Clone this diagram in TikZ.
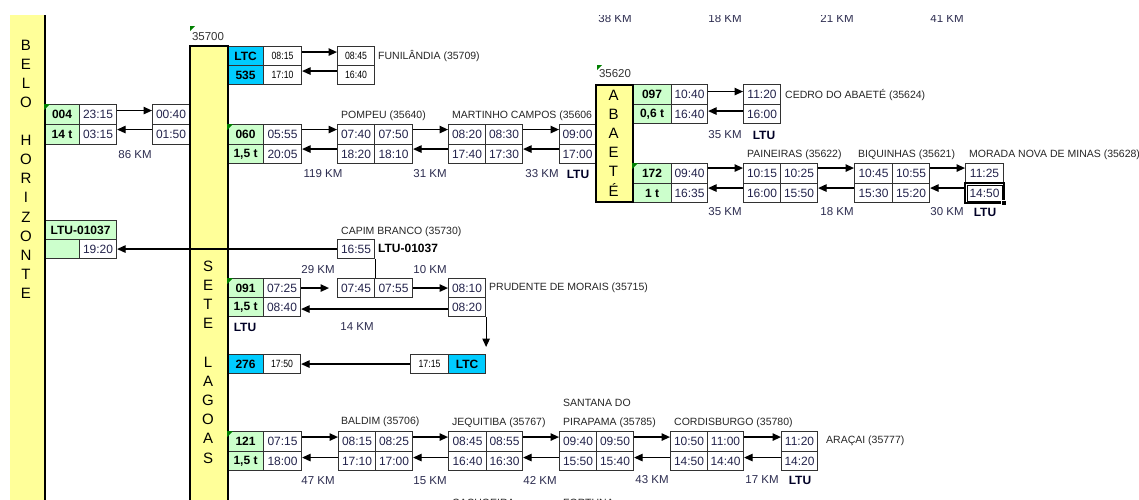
\documentclass[tikz,border=0pt]{standalone}
\usepackage{fontspec}
\setmainfont{Liberation Sans}
\newfontfamily\nrw[FakeStretch=0.83]{Liberation Sans}
\usetikzlibrary{arrows.meta}
\definecolor{yel}{RGB}{255,255,153}
\definecolor{grn}{RGB}{204,255,204}
\definecolor{cyn}{RGB}{0,204,255}
\definecolor{timecol}{RGB}{35,35,75}
\definecolor{kmcol}{RGB}{45,45,80}
\definecolor{cellline}{RGB}{50,50,50}
\definecolor{markgreen}{RGB}{0,128,0}
\tikzset{
 cellb/.style={draw=cellline, line width=1.1pt, inner sep=0pt, anchor=north west, text=timecol, font=\fontsize{12}{14}\selectfont},
 grc/.style={cellb, fill=grn, text=black, font=\bfseries\fontsize{12}{14}\selectfont},
 cyc/.style={cellb, fill=cyn, text=black, font=\bfseries\fontsize{12}{14}\selectfont},
 nrc/.style={cellb, text=black, font=\nrw\fontsize{10.5}{12}\selectfont},
 stlabel/.style={anchor=west, inner sep=0pt, text=black!85, font=\fontsize{10.5}{12}\selectfont},
 kmlabel/.style={inner sep=0pt, text=kmcol, font=\fontsize{11.5}{13}\selectfont},
 ltulabel/.style={inner sep=0pt, text=black!85!blue, font=\bfseries\fontsize{12}{14}\selectfont},
 arr/.style={draw=black, line width=1.2pt, -{Triangle[length=8.5pt,width=7.5pt]}},
 plainline/.style={draw=black, line width=1.2pt},
 barbox/.style={fill=yel, draw=black, line width=2.2pt, anchor=north west, inner sep=0pt},
 barletter/.style={inner sep=0pt, font=\fontsize{15}{17}\selectfont},
}
\newcommand\mkcell[6]{\node[#1, minimum width=#4pt, minimum height=#5pt] (#2) at (#3) {#6};}
\newcommand\myrar[3]{\draw[arr] ([yshift=#3pt]#1.east) -- ([yshift=#3pt]#2.west);}
\newcommand\mylar[3]{\draw[arr] ([yshift=#3pt]#1.west) -- ([yshift=#3pt]#2.east);}
\newcommand\mykm[3]{\node[kmlabel] (#1) at (#2) {#3};}
\newcommand\mylbl[3]{\node[stlabel] (#1) at (#2) {#3};}
\newcommand\mytri[1]{\fill[markgreen] (#1.north west) -- ++(6,0) -- ++(-6,6) -- cycle;}
\begin{document}
\begin{tikzpicture}[x=1pt,y=-1pt]
\useasboundingbox (0,0) rectangle (1139,499);
\fill[white] (0,0) rectangle (1139,499);
\begin{scope}
\clip (0,15.5) rectangle (1139,499);
% top partial km labels
\mykm{kmt1}{615,18.5}{38 KM}
\mykm{kmt2}{725,18.5}{18 KM}
\mykm{kmt3}{837,18.5}{21 KM}
\mykm{kmt4}{947,18.5}{41 KM}
% station labels
\mylbl{lfun}{378,56}{FUNILÂNDIA (35709)}
\mylbl{lpom}{341,116}{POMPEU (35640)}
\mylbl{lmar}{452,116}{MARTINHO CAMPOS (35606}
\mylbl{lced}{785,95}{CEDRO DO ABAETÉ (35624)}
\mylbl{lpai}{747,155}{PAINEIRAS (35622)}
\mylbl{lbiq}{858,155}{BIQUINHAS (35621)}
\mylbl{lmor}{969,155}{MORADA NOVA DE MINAS (35628)}
\mylbl{lcap}{341,232}{CAPIM BRANCO (35730)}
\mylbl{lpru}{489,288}{PRUDENTE DE MORAIS (35715)}
\mylbl{lbal}{341,422}{BALDIM (35706)}
\mylbl{ljeq}{452,423}{JEQUITIBA (35767)}
\mylbl{lsan}{563,403}{SANTANA DO}
\mylbl{lpir}{563,423}{PIRAPAMA (35785)}
\mylbl{lcor}{674,423}{CORDISBURGO (35780)}
\mylbl{lara}{826,441}{ARAÇAI (35777)}
\mylbl{lcac}{452,503}{CACHOEIRA}
\mylbl{lfor}{563,503}{FORTUNA}
% km labels
\mykm{km86}{135,155}{86 KM}
\mykm{km119}{323,174}{119 KM}
\mykm{km31}{430,174}{31 KM}
\mykm{km33}{542,174}{33 KM}
\node[ltulabel] (ltu1) at (578,174) {LTU};
\mykm{km35a}{725,135}{35 KM}
\node[ltulabel] (ltu2) at (764,135) {LTU};
\mykm{km35b}{725,212}{35 KM}
\mykm{km18}{837,212}{18 KM}
\mykm{km30}{947,212}{30 KM}
\node[ltulabel] (ltu3) at (985,212) {LTU};
\mykm{km29}{318,270}{29 KM}
\mykm{km10}{430,270}{10 KM}
\node[ltulabel] (ltu4) at (245,327) {LTU};
\mykm{km14}{357,327}{14 KM}
\mykm{km47}{318,481}{47 KM}
\mykm{km15}{430,481}{15 KM}
\mykm{km42}{540,480}{42 KM}
\mykm{km43}{652,480}{43 KM}
\mykm{km17}{762,480}{17 KM}
\node[ltulabel] (ltu5) at (800,480) {LTU};
% BH 004 block
\mkcell{grc}{g004}{44,104}{35}{20}{004}
\mkcell{cellb}{t2315}{79,104}{37}{20}{23:15}
\mkcell{grc}{g14t}{44,124}{35}{20}{14 t}
\mkcell{cellb}{t0315}{79,124}{37}{20}{03:15}
\mkcell{cellb}{s0040}{152,104}{37}{20}{00:40}
\mkcell{cellb}{s0150}{152,124}{37}{20}{01:50}
% LTC 535
\mkcell{cyc}{cltc}{227,46}{36}{19}{LTC}
\mkcell{nrc}{t0815}{263,46}{38}{19}{08:15}
\mkcell{cyc}{c535}{227,65}{36}{19}{535}
\mkcell{nrc}{t1710}{263,65}{38}{19}{17:10}
\mkcell{nrc}{f0845}{337,46}{37}{19}{08:45}
\mkcell{nrc}{f1640}{337,65}{37}{19}{16:40}
% 060
\mkcell{grc}{g060}{227,124}{36}{20}{060}
\mkcell{cellb}{t0555}{263,124}{38}{20}{05:55}
\mkcell{grc}{g15a}{227,144}{36}{19}{1,5 t}
\mkcell{cellb}{t2005}{263,144}{38}{19}{20:05}
\mkcell{cellb}{p0740}{337,124}{37}{20}{07:40}
\mkcell{cellb}{p0750}{374,124}{38}{20}{07:50}
\mkcell{cellb}{p1820}{337,144}{37}{19}{18:20}
\mkcell{cellb}{p1810}{374,144}{38}{19}{18:10}
\mkcell{cellb}{m0820}{448,124}{37}{20}{08:20}
\mkcell{cellb}{m0830}{485,124}{37}{20}{08:30}
\mkcell{cellb}{m1740}{448,144}{37}{19}{17:40}
\mkcell{cellb}{m1730}{485,144}{37}{19}{17:30}
\mkcell{cellb}{a0900}{559,124}{36}{20}{09:00}
\mkcell{cellb}{a1700}{559,144}{36}{19}{17:00}
% 097
\mkcell{grc}{g097}{632,84}{39}{20}{097}
\mkcell{cellb}{t1040}{671,84}{36}{20}{10:40}
\mkcell{grc}{g06t}{632,104}{39}{19}{0,6 t}
\mkcell{cellb}{t1640}{671,104}{36}{19}{16:40}
\mkcell{cellb}{e1120}{743,84}{37}{20}{11:20}
\mkcell{cellb}{e1600}{743,104}{37}{19}{16:00}
% 172
\mkcell{grc}{g172}{632,163}{39}{20}{172}
\mkcell{cellb}{t0940}{671,163}{36}{20}{09:40}
\mkcell{grc}{g1t}{632,183}{39}{19}{1 t}
\mkcell{cellb}{t1635}{671,183}{36}{19}{16:35}
\mkcell{cellb}{n1015}{743,163}{37}{20}{10:15}
\mkcell{cellb}{n1025}{780,163}{37}{20}{10:25}
\mkcell{cellb}{n1600}{743,183}{37}{19}{16:00}
\mkcell{cellb}{n1550}{780,183}{37}{19}{15:50}
\mkcell{cellb}{q1045}{854,163}{38}{20}{10:45}
\mkcell{cellb}{q1055}{892,163}{37}{20}{10:55}
\mkcell{cellb}{q1530}{854,183}{38}{19}{15:30}
\mkcell{cellb}{q1520}{892,183}{37}{19}{15:20}
\mkcell{cellb}{r1125}{965,163}{38}{20}{11:25}
\mkcell{cellb}{r1450}{965,183}{38}{19}{14:50}
% LTU-01037
\mkcell{grc}{gltu}{44,220}{72}{19}{LTU-01037}
\mkcell{grc}{gblank}{44,239}{35}{19}{}
\mkcell{cellb}{l1920}{79,239}{37}{19}{19:20}
\mkcell{cellb}{k1655}{337,239}{37}{19}{16:55}
\node[ltulabel, text=black, anchor=west] (kltu) at (378,248.5) {LTU-01037};
% 091
\mkcell{grc}{g091}{227,278}{36}{19}{091}
\mkcell{cellb}{t0725}{263,278}{37}{19}{07:25}
\mkcell{grc}{g15b}{227,297}{36}{19}{1,5 t}
\mkcell{cellb}{t0840}{263,297}{37}{19}{08:40}
\mkcell{cellb}{k0745}{337,278}{37}{19}{07:45}
\mkcell{cellb}{k0755}{374,278}{38}{19}{07:55}
\mkcell{cellb}{u0810}{448,278}{37}{19}{08:10}
\mkcell{cellb}{u0820}{448,297}{37}{19}{08:20}
% 276
\mkcell{cyc}{c276}{227,354}{36}{19}{276}
\mkcell{nrc}{t1750}{263,354}{37}{19}{17:50}
\mkcell{nrc}{t1715}{410,354}{38}{19}{17:15}
\mkcell{cyc}{cltc2}{448,354}{37}{19}{LTC}
% 121
\mkcell{grc}{g121}{227,431}{36}{20}{121}
\mkcell{cellb}{t0715}{263,431}{38}{20}{07:15}
\mkcell{grc}{g15c}{227,451}{36}{19}{1,5 t}
\mkcell{cellb}{t1800}{263,451}{38}{19}{18:00}
\mkcell{cellb}{b0815}{338,431}{37}{20}{08:15}
\mkcell{cellb}{b0825}{375,431}{37}{20}{08:25}
\mkcell{cellb}{b1710}{338,451}{37}{19}{17:10}
\mkcell{cellb}{b1700}{375,451}{37}{19}{17:00}
\mkcell{cellb}{j0845}{448,431}{38}{20}{08:45}
\mkcell{cellb}{j0855}{486,431}{36}{20}{08:55}
\mkcell{cellb}{j1640}{448,451}{38}{19}{16:40}
\mkcell{cellb}{j1630}{486,451}{36}{19}{16:30}
\mkcell{cellb}{s0940}{559,431}{37}{20}{09:40}
\mkcell{cellb}{s0950}{596,431}{37}{20}{09:50}
\mkcell{cellb}{s1550}{559,451}{37}{19}{15:50}
\mkcell{cellb}{s1540}{596,451}{37}{19}{15:40}
\mkcell{cellb}{o1050}{670,431}{37}{20}{10:50}
\mkcell{cellb}{o1100}{707,431}{36}{20}{11:00}
\mkcell{cellb}{o1450}{670,451}{37}{19}{14:50}
\mkcell{cellb}{o1440}{707,451}{36}{19}{14:40}
\mkcell{cellb}{w1120}{781,431}{36}{20}{11:20}
\mkcell{cellb}{w1420}{781,451}{36}{19}{14:20}
% selected cell frame
\draw[black, line width=1.4pt] (r1450.north west) rectangle (r1450.south east);
\draw[black, line width=0.8pt] ([xshift=2pt,yshift=-2.5pt]r1450.north west) rectangle ([xshift=-2pt,yshift=2pt]r1450.south east);
\draw[fill=black, draw=white, line width=0.6pt] ([xshift=-2.5pt,yshift=2.5pt]r1450.south east) rectangle ([xshift=2.5pt,yshift=-2.5pt]r1450.south east);
% bars
\node[barbox, draw=none, minimum width=34pt, minimum height=520pt] (bhbar) at (9,-10) {};
\draw[black, line width=2.2pt] (bhbar.north east) -- (bhbar.south east);
\node[barbox, minimum width=38pt, minimum height=480pt] (setebar) at (189,45) {};
\node[barbox, minimum width=37pt, minimum height=117pt] (abaebar) at (595,84) {};
\foreach \ch [count=\i] in {B,E,L,O,{},H,O,R,I,Z,O,N,T,E}
  \node[barletter] (bhletter\i) at (26,{45+19.1*(\i-1)}) {\ch};
\foreach \ch [count=\i] in {S,E,T,E,{},L,A,G,O,A,S}
  \node[barletter] (seteletter\i) at (208,{266+19.2*(\i-1)}) {\ch};
\foreach \ch [count=\i] in {A,B,A,E,T,É}
  \node[barletter] (abaeletter\i) at (613.5,{95+19*(\i-1)}) {\ch};
\node[kmlabel, text=black!80] (code35700) at (208,37) {35700};
\node[kmlabel, text=black!80] (code35620) at (615,74) {35620};
\fill[markgreen] (190,26) -- ++(5,0) -- ++(-5,5) -- cycle;
\fill[markgreen] (597,65) -- ++(5,0) -- ++(-5,5) -- cycle;
\mytri{g004}\mytri{g060}\mytri{g172}\mytri{g091}\mytri{g121}
% connectors
\myrar{t2315}{s0040}{4}\mylar{s0150}{t0315}{5}
\myrar{t0815}{f0845}{4}\mylar{f1640}{t1710}{4}
\myrar{t0555}{p0740}{5}\mylar{p1820}{t2005}{5}
\myrar{p0750}{m0820}{5}\mylar{m1740}{p1810}{5}
\myrar{m0830}{a0900}{5}\mylar{a1700}{m1730}{5}
\myrar{t1040}{e1120}{3}\mylar{e1600}{t1640}{3}
\myrar{t0940}{n1015}{5.5}\mylar{n1600}{t1635}{5}
\myrar{n1025}{q1045}{5.5}\mylar{q1530}{n1550}{5}
\myrar{q1055}{r1125}{5.5}\mylar{r1450}{q1520}{5}
\draw[arr] (k1655.west) -- (l1920.east);
\draw[plainline] (k1655.south east) -- (k0745.north east);
\draw[arr, shorten >=8pt] (t0725.east) -- (k0745.west);
\myrar{k0755}{u0810}{0}
\draw[arr] ([yshift=-2pt]u0820.west) -- ([yshift=-2pt]t0840.east);
\draw[arr, shorten >=7pt] (u0820.south east) -- (cltc2.north east);
\draw[arr] (t1715.west) -- (t1750.east);
\myrar{t0715}{b0815}{4.5}\mylar{b1710}{t1800}{3.5}
\myrar{b0825}{j0845}{4.5}\mylar{j1640}{b1700}{3.5}
\myrar{j0855}{s0940}{4.5}\mylar{s1550}{j1630}{3.5}
\myrar{s0950}{o1050}{4.5}\mylar{o1450}{s1540}{3.5}
\myrar{o1100}{w1120}{4.5}\mylar{w1420}{o1440}{3.5}
\end{scope}
\end{tikzpicture}
\end{document}
